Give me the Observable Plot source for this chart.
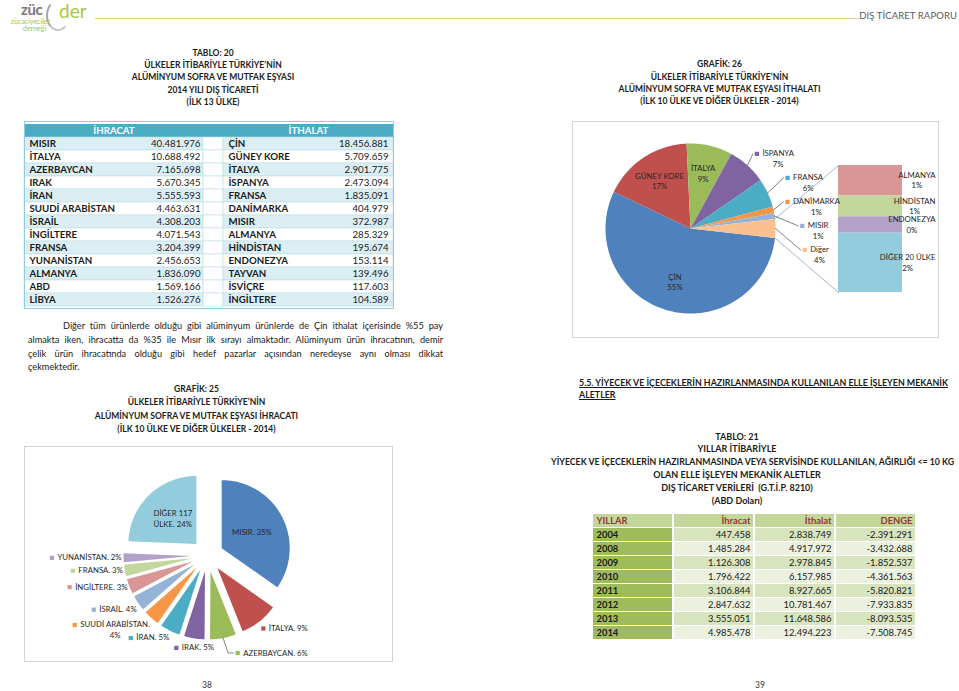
<!DOCTYPE html>
<html lang="tr">
<head>
<meta charset="utf-8">
<script src="https://cdn.jsdelivr.net/npm/d3@7"></script>
<script src="https://cdn.jsdelivr.net/npm/@observablehq/plot@0.6"></script>
<style>
  html, body { margin:0; padding:0; background:#fff; }
  #page { position:relative; width:959px; height:691px; overflow:hidden; background:#fff;
          font-family: Lato, "Noto Sans", sans-serif; color:#1b1b1b; }
  .abs { position:absolute; }
  .ttl { position:absolute; text-align:center; font-weight:700; font-size:8.5px; white-space:nowrap; }
  .ttl div { height:12.3px; line-height:12.3px; }
  .para { position:absolute; left:28px; width:415px; font-size:9.2px; }
  .para div { height:13.7px; line-height:13.7px; text-align:justify; text-align-last:justify; white-space:nowrap; }
  .para div.last { text-align-last:left; }
  .plotbox { position:absolute; }
  .plotbox svg { display:block; overflow:visible; }
</style>
</head>
<body>
<div id="page">
  <!-- header -->
  <div class="abs" style="left:21px;top:2px;font:700 15px/15px Lato;color:#77787b;letter-spacing:-0.4px">züc</div>
  <div class="abs" style="left:46px;top:0px;width:20px;height:27px;border:2px solid transparent;border-left-color:#a6a7a9;border-bottom-color:#c9cacc;border-radius:50%"></div>
  <div class="abs" style="left:59px;top:1px;font:400 19px/19px Lato;color:#a8c545">der</div>
  <div class="abs" style="left:11px;top:17px;font:400 7px/8px Lato;color:#a8c545">zücaciyeciler</div>
  <div class="abs" style="left:23px;top:24px;font:400 7px/8px Lato;color:#a8c545">derneği</div>
  <div class="abs" style="left:95px;top:18px;width:764px;height:1px;background:#d9d68c"></div>
  <div class="abs" style="right:2px;top:10px;font-size:9.5px;line-height:12px;color:#58595b;letter-spacing:0.1px">DIŞ TİCARET RAPORU</div>

  <!-- left page titles -->
  <div class="ttl" style="left:0;width:426px;top:46.8px">
    <div>TABLO: 20</div>
    <div>ÜLKELER İTİBARİYLE TÜRKİYE’NİN</div>
    <div>ALÜMİNYUM SOFRA VE MUTFAK EŞYASI</div>
    <div>2014 YILI DIŞ TİCARETİ</div>
    <div>(İLK 13 ÜLKE)</div>
  </div>

  <div class="para" style="top:319.2px">
    <div style="padding-left:35px">Diğer tüm ürünlerde olduğu gibi alüminyum ürünlerde de Çin ithalat içerisinde %55 pay</div>
    <div>almakta iken, ihracatta da %35 ile Mısır ilk sırayı almaktadır. Alüminyum ürün ihracatının, demir</div>
    <div>çelik ürün ihracatında olduğu gibi hedef pazarlar açısından neredeyse aynı olması dikkat</div>
    <div class="last">çekmektedir.</div>
  </div>

  <div class="ttl" style="left:0;width:393px;top:383px">
    <div style="height:13.3px;line-height:13.3px">GRAFİK: 25</div>
    <div style="height:13.3px;line-height:13.3px">ÜLKELER İTİBARİYLE TÜRKİYE’NİN</div>
    <div style="height:13.3px;line-height:13.3px">ALÜMİNYUM SOFRA VE MUTFAK EŞYASI İHRACATI</div>
    <div style="height:13.3px;line-height:13.3px">(İLK 10 ÜLKE VE DİĞER ÜLKELER - 2014)</div>
  </div>

  <!-- right page titles -->
  <div class="ttl" style="left:519px;width:401px;top:58.4px">
    <div>GRAFİK: 26</div>
    <div>ÜLKELER İTİBARİYLE TÜRKİYE’NİN</div>
    <div>ALÜMİNYUM SOFRA VE MUTFAK EŞYASI İTHALATI</div>
    <div>(İLK 10 ÜLKE VE DİĞER ÜLKELER - 2014)</div>
  </div>

  <div class="abs" style="left:579px;top:377px;font-weight:700;font-size:8.85px;line-height:12px;text-decoration:underline;white-space:nowrap">
    <div>5.5. YİYECEK VE İÇECEKLERİN HAZIRLANMASINDA KULLANILAN ELLE İŞLEYEN MEKANİK</div>
    <div>ALETLER</div>
  </div>

  <div class="ttl" style="left:537px;width:400px;top:430.5px;font-size:9px">
    <div style="height:12.9px;line-height:12.9px">TABLO: 21</div>
    <div style="height:12.9px;line-height:12.9px">YILLAR İTİBARİYLE</div>
    <div style="height:12.9px;line-height:12.9px;position:relative;left:14px;font-size:8.75px">YİYECEK VE İÇECEKLERİN HAZIRLANMASINDA VEYA SERVİSİNDE KULLANILAN, AĞIRLIĞI &lt;= 10 KG</div>
    <div style="height:12.9px;line-height:12.9px">OLAN ELLE İŞLEYEN MEKANİK ALETLER</div>
    <div style="height:12.9px;line-height:12.9px">DIŞ TİCARET VERİLERİ&nbsp; (G.T.İ.P. 8210)</div>
    <div style="height:12.9px;line-height:12.9px">(ABD Doları)</div>
  </div>

  <div class="abs" style="left:192px;width:30px;text-align:center;top:680px;font-size:8.5px;color:#333">38</div>
  <div class="abs" style="left:745px;width:30px;text-align:center;top:680px;font-size:8.5px;color:#333">39</div>
</div>

<script>
// ---------------- DATA ----------------
const exportCountries = ["MISIR","İTALYA","AZERBAYCAN","IRAK","İRAN","SUUDİ ARABİSTAN","İSRAİL","İNGİLTERE","FRANSA","YUNANİSTAN","ALMANYA","ABD","LİBYA"];
const exportValues = [40481976,10688492,7165698,5670345,5555593,4463631,4308203,4071543,3204399,2456653,1836090,1569166,1526276];
const importCountries = ["ÇİN","GÜNEY KORE","İTALYA","İSPANYA","FRANSA","DANİMARKA","MISIR","ALMANYA","HİNDİSTAN","ENDONEZYA","TAYVAN","İSVİÇRE","İNGİLTERE"];
const importValues = [18456881,5709659,2901775,2473094,1835091,404979,372987,285329,195674,153114,139496,117603,104589];

// Grafik 25 (export pie): top 10 + others (others estimated from the 24% share)
const exportPieNames = ["MISIR","İTALYA","AZERBAYCAN","IRAK","İRAN","SUUDİ ARABİSTAN","İSRAİL","İNGİLTERE","FRANSA","YUNANİSTAN","DİĞER 117 ÜLKE"];
const exportPieValues = [40481976,10688492,7165698,5670345,5555593,4463631,4308203,4071543,3204399,2456653,28390000];

// Grafik 26 (import bar-of-pie)
const importPieNames = ["ÇİN","GÜNEY KORE","İTALYA","İSPANYA","FRANSA","DANİMARKA","MISIR","Diğer"];
const importPieValues = [18456881,5709659,2901775,2473094,1835091,404979,372987];
const importBarNames = ["ALMANYA","HİNDİSTAN","ENDONEZYA","DİĞER 20 ÜLKE"];
const importBarValues = [285329,195674,153114,556000];

// Tablo 21
const years = [2004,2008,2009,2010,2011,2012,2013,2014];
const ihracat = [447458,1485284,1126308,1796422,3106844,2847632,3555051,4985478];
const ithalat = [2838749,4917972,2978845,6157985,8927665,10781467,11648586,12494223];
const denge = [-2391291,-3432688,-1852537,-4361563,-5820821,-7933835,-8093535,-7508745];
const table21Cols = ["YILLAR","İhracat","İthalat","DENGE"];

// palettes (styles)
const exportPieColors = ["#4F81BD","#C0504D","#9BBB59","#8064A2","#4BACC6","#F79646","#95B3D7","#D99694","#C3D69B","#B3A2C7","#93CDDD"];
const importPieColors = ["#4F81BD","#C0504D","#9BBB59","#8064A2","#4BACC6","#F79646","#95B3D7","#FAC090"];
const importBarColors = ["#D99694","#C3D69B","#B3A2C7","#93CDDD"];

// ---------------- HELPERS ----------------
const FONT = "Lato, 'Noto Sans', sans-serif";
const loc = d3.formatLocale({decimal: ",", thousands: ".", grouping: [3], currency: ["", ""], minus: "-"});
const num = loc.format(",d");
const pct = d3.format(".0%");
const ctx = document.createElement("canvas").getContext("2d");
const tw = (s, size, weight = 400) => { ctx.font = `${weight} ${size}px Lato`; return ctx.measureText(s).width; };
const page = document.getElementById("page");
function mount(svg, left, top, w, h) {
  const d = document.createElement("div");
  d.className = "plotbox";
  d.style.left = left + "px"; d.style.top = top + "px";
  d.style.width = w + "px"; d.style.height = h + "px";
  d.appendChild(svg); page.appendChild(d);
}
const at = (c, r, a) => [c[0] + r * Math.sin(a), c[1] - r * Math.cos(a)];
function slicePts(name, color, c, r, a0, a1) {
  const n = Math.max(2, Math.ceil((a1 - a0) / (Math.PI / 180)));
  const pts = [{name, color, x: c[0], y: c[1]}];
  for (let i = 0; i <= n; i++) {
    const p = at(c, r, a0 + (a1 - a0) * i / n);
    pts.push({name, color, x: p[0], y: p[1]});
  }
  pts.push({name, color, x: c[0], y: c[1]});
  return pts;
}
function wrap(text, maxChars) {
  const words = text.split(" "), lines = [];
  let cur = "";
  for (const w of words) {
    if (cur && (cur + " " + w).length > maxChars) { lines.push(cur); cur = w; }
    else cur = cur ? cur + " " + w : w;
  }
  if (cur) lines.push(cur);
  return lines;
}
const pixelScales = (W, H) => ({
  x: {domain: [0, W], range: [0, W], axis: null},
  y: {domain: [0, H], range: [0, H], axis: null}
});

// ---------------- TABLO 20 ----------------
{
  const W = 369, H = 187, LX1 = 179, RX0 = 199;
  const rows = exportCountries.map((c, i) => ({
    row: String(i), ln: c, lv: num(exportValues[i]), rn: importCountries[i], rv: num(importValues[i]), shade: i % 2 === 0
  }));
  const cells = rows.flatMap(r => [
    {row: r.row, x1: 0, x2: LX1, fill: r.shade ? "#DAEEF3" : "#FFFFFF"},
    {row: r.row, x1: LX1, x2: RX0, fill: "#FFFFFF"},
    {row: r.row, x1: RX0, x2: W, fill: r.shade ? "#DAEEF3" : "#FFFFFF"}
  ]);
  const head = [{row: "h", x1: 0, x2: W}];
  const headText = [{row: "h", t: "İHRACAT", x: LX1 / 2}, {row: "h", t: "İTHALAT", x: (RX0 + W) / 2}];
  const svg = Plot.plot({
    width: W, height: H, margin: 0,
    x: {domain: [0, W], range: [0, W], axis: null},
    y: {domain: ["h", ...rows.map(r => r.row)], range: [0, H], padding: 0, axis: null},
    color: {type: "identity"},
    style: {fontFamily: FONT, fontSize: "9.7px", color: "#1b1b1b", background: "transparent", overflow: "visible"},
    marks: [
      Plot.barX(head, {x1: "x1", x2: "x2", y: "row", fill: "#4BACC6"}),
      Plot.barX(cells, {x1: "x1", x2: "x2", y: "row", fill: "fill", stroke: "#BCDDE7", strokeWidth: 0.6}),
      Plot.text(headText, {x: "x", y: "row", text: "t", fill: "white", fontWeight: "bold"}),
      Plot.text(rows, {x: () => 5, y: "row", text: "ln", textAnchor: "start", fontWeight: "bold"}),
      Plot.text(rows, {x: () => LX1 - 3, y: "row", text: "lv", textAnchor: "end"}),
      Plot.text(rows, {x: () => RX0 + 5, y: "row", text: "rn", textAnchor: "start", fontWeight: "bold"}),
      Plot.text(rows, {x: () => W - 5, y: "row", text: "rv", textAnchor: "end"}),
      Plot.frame({stroke: "#93CDDD"})
    ]
  });
  mount(svg, 24, 121, W, H);
}

// ---------------- TABLO 21 ----------------
{
  const W = 322, H = 127, pIn = 0.025;
  const bw = W / (table21Cols.length - pIn) * (1 - pIn);
  const rowKeys = ["h", ...years.map(String)];
  const cells = table21Cols.map(c => ({col: c, row: "h", fill: "#C4D79B"}));
  years.forEach((y, i) => {
    cells.push({col: "YILLAR", row: String(y), fill: "#9EBC5C"});
    ["İhracat", "İthalat", "DENGE"].forEach(c =>
      cells.push({col: c, row: String(y), fill: i % 2 ? "#EBF1DE" : "#D7E4BD"}));
  });
  const vals = years.flatMap((y, i) => [
    {col: "İhracat", row: String(y), t: num(ihracat[i])},
    {col: "İthalat", row: String(y), t: num(ithalat[i])},
    {col: "DENGE", row: String(y), t: num(denge[i])}
  ]);
  const yearText = years.map(y => ({col: "YILLAR", row: String(y), t: String(y)}));
  const headL = [{col: "YILLAR", row: "h", t: "YILLAR"}];
  const headR = table21Cols.slice(1).map(c => ({col: c, row: "h", t: c}));
  const svg = Plot.plot({
    width: W, height: H, margin: 0,
    x: {domain: table21Cols, range: [0, W], paddingInner: pIn, paddingOuter: 0, axis: null},
    y: {domain: rowKeys, range: [0, H], paddingInner: 0.07, paddingOuter: 0, axis: null},
    color: {type: "identity"},
    style: {fontFamily: FONT, fontSize: "9.4px", color: "#222", background: "transparent", overflow: "visible"},
    marks: [
      Plot.cell(cells, {x: "col", y: "row", fill: "fill"}),
      Plot.text(headL, {x: "col", y: "row", text: "t", textAnchor: "start", dx: -bw / 2 + 3, fill: "#953735", fontWeight: "bold"}),
      Plot.text(headR, {x: "col", y: "row", text: "t", textAnchor: "end", dx: bw / 2 - 3, fill: "#953735", fontWeight: "bold"}),
      Plot.text(yearText, {x: "col", y: "row", text: "t", textAnchor: "start", dx: -bw / 2 + 3, fontWeight: "bold", fill: "#1b1b1b"}),
      Plot.text(vals, {x: "col", y: "row", text: "t", textAnchor: "end", dx: bw / 2 - 3})
    ]
  });
  mount(svg, 593, 513, W, H);
}

// ---------------- GRAFİK 25 (export pie, exploded) ----------------
{
  const W = 368, H = 215, C = [183, 109], R = 68, EX = 16, FS = 7.8, LH = 11;
  const data = exportPieNames.map((n, i) => ({name: n, value: exportPieValues[i], color: exportPieColors[i]}));
  const total = d3.sum(data, d => d.value);
  const arcs = d3.pie().sort(null).value(d => d.value)(data);
  arcs.forEach(a => {
    a.mid = (a.startAngle + a.endAngle) / 2;
    a.share = a.data.value / total;
    a.label = a.data.name + ". " + pct(a.share);
  });
  const pts = arcs.flatMap(a => slicePts(a.data.name, a.data.color, at(C, EX, a.mid), R, a.startAngle, a.endAngle));
  const texts = [], markers = [], leaders = [], boxes = [];
  arcs.filter(a => a.share > 0.15).forEach(a => {
    const p = at(at(C, EX, a.mid), R * 0.5, a.mid);
    const lines = wrap(a.label, 10);
    lines.forEach((t, i) => texts.push({x: p[0], y: p[1] + (i - (lines.length - 1) / 2) * LH, t}));
  });
  const outs = arcs.filter(a => a.share <= 0.15).reverse();
  for (const a of outs) {
    const lines = wrap(a.label, 17);
    const w1 = tw(lines[0], FS);
    const w = 8 + w1, h = lines.length * LH;
    const sx = Math.sin(a.mid), sy = -Math.cos(a.mid);
    const P = at(C, R + EX + 2, a.mid);
    let L, cy, lead = null;
    const vy = sy > 0.4 ? P[1] + h / 2 : sy < -0.4 ? P[1] - h / 2 : P[1];
    if (sx < -0.3) { L = P[0] - w; cy = vy; }
    else if (sx > 0.3) { L = P[0]; cy = vy; }
    else {
      L = P[0] - w / 2; cy = P[1] + 2 + h / 2;
      const b = {x0: L, x1: L + w, y0: cy - h / 2, y1: cy + h / 2};
      if (boxes.some(o => o.x0 < b.x1 && b.x0 < o.x1 && o.y0 < b.y1 && b.y0 < o.y1)) {
        const E = at(C, R + EX, a.mid);
        L = E[0] + 12; cy = E[1] + 15;
        lead = [[E[0], E[1]], [E[0] + 5, cy], [L - 2, cy]];
      }
    }
    const cx = L + 8 + w1 / 2;
    lines.forEach((t, i) => {
      const y = cy + (i - (lines.length - 1) / 2) * LH;
      const wi = tw(t, FS);
      boxes.push(i === 0 ? {x0: L, x1: L + w, y0: y - LH / 2, y1: y + LH / 2}
                         : {x0: cx - wi / 2, x1: cx + wi / 2, y0: y - LH / 2, y1: y + LH / 2});
      texts.push({x: cx, y, t});
    });
    markers.push({x: L + 2.5, y: cy - (lines.length - 1) / 2 * LH, color: a.data.color});
    if (lead) lead.forEach(([x, y]) => leaders.push({id: a.data.name, x, y}));
  }
  const svg = Plot.plot({
    width: W, height: H, margin: 0, ...pixelScales(W, H),
    color: {type: "identity"},
    style: {fontFamily: FONT, fontSize: FS + "px", color: "#262626", background: "transparent", overflow: "visible"},
    marks: [
      Plot.frame({stroke: "#D4D4D4"}),
      Plot.line(pts, {x: "x", y: "y", z: "name", fill: "color", stroke: "none"}),
      Plot.line(leaders, {x: "x", y: "y", z: "id", stroke: "#4d4d4d", strokeWidth: 0.7}),
      Plot.dot(markers, {x: "x", y: "y", fill: "color", symbol: "square", r: 2.4}),
      Plot.text(texts, {x: "x", y: "y", text: "t"})
    ]
  });
  mount(svg, 24, 446, W, H);
}

// ---------------- GRAFİK 26 (import bar-of-pie) ----------------
{
  const W = 366, H = 216, C = [118, 107], R = 85, FS = 7.8, LH = 10.5;
  const bar = {x0: 266, x1: 330, y0: 44, y1: 171};
  const barData = importBarNames.map((n, i) => ({name: n, value: importBarValues[i], color: importBarColors[i]}));
  const other = d3.sum(barData, d => d.value);
  const mainData = importPieNames.map((n, i) => ({
    name: n, value: i < importPieValues.length ? importPieValues[i] : other, color: importPieColors[i]
  }));
  const total = d3.sum(mainData, d => d.value);
  const dAng = 2 * Math.PI * other / total;
  const start = Math.PI / 2 + dAng / 2;
  const arcs = d3.pie().sort(null).value(d => d.value).startAngle(start).endAngle(start + 2 * Math.PI)(mainData);
  arcs.forEach(a => { a.mid = (a.startAngle + a.endAngle) / 2; a.share = a.data.value / total; });
  const pts = arcs.flatMap(a => slicePts(a.data.name, a.data.color, C, R, a.startAngle, a.endAngle));

  let acc = 0;
  const segs = barData.map(d => {
    const y1 = bar.y0 + acc / other * (bar.y1 - bar.y0);
    acc += d.value;
    const y2 = bar.y0 + acc / other * (bar.y1 - bar.y0);
    return {...d, x1: bar.x0, x2: bar.x1, y1, y2};
  });
  const last = arcs[arcs.length - 1];
  const pA = at(C, R, last.startAngle), pB = at(C, R, last.endAngle);
  const conn = [
    {id: 0, x: pA[0], y: pA[1]}, {id: 0, x: bar.x0, y: bar.y0},
    {id: 1, x: pB[0], y: pB[1]}, {id: 1, x: bar.x0, y: bar.y1}
  ];

  const texts = [], markers = [], leaders = [];
  arcs.filter(a => a.share > 0.08).forEach(a => {
    const p = at(C, R * 0.66, a.mid);
    [a.data.name, pct(a.share)].forEach((t, i) => texts.push({x: p[0], y: p[1] + (i - 0.5) * LH, t}));
  });
  // outside labels: natural spot on a ring, pushed apart, then packed into a column
  const outs = arcs.filter(a => a.share <= 0.08).map(a => {
    const c = at(C, 125, a.mid);
    return {a, cx0: c[0], cy: c[1] + 6};
  });
  for (let i = 1; i < outs.length; i++) outs[i].cy = Math.max(outs[i].cy, outs[i - 1].cy + 24);
  for (let i = outs.length - 2; i >= 0; i--) outs[i].cy = Math.max(outs[i].cy, outs[i + 1].cy - 24);
  outs.forEach(({a, cx0, cy}) => {
    const lines = [a.data.name, pct(a.share)];
    const w1 = tw(lines[0], FS);
    const L = cx0 - (8 + w1) / 2;
    const cx = L + 8 + w1 / 2;
    lines.forEach((t, i) => texts.push({x: cx, y: cy + (i - 0.5) * LH, t}));
    markers.push({x: L + 2.5, y: cy - LH / 2, color: a.data.color});
    const E = at(C, R, a.mid);
    leaders.push({id: a.data.name, x: E[0], y: E[1]}, {id: a.data.name, x: L - 1.5, y: cy - LH / 2});
  });
  segs.forEach(s => {
    const lines = [s.name, pct(s.value / total)];
    const wm = d3.max(lines, t => tw(t, FS));
    const cx = W - 3 - wm / 2, cy = (s.y1 + s.y2) / 2;
    lines.forEach((t, i) => texts.push({x: cx, y: cy + (i - 0.5) * LH, t}));
  });

  const svg = Plot.plot({
    width: W, height: H, margin: 0, ...pixelScales(W, H),
    color: {type: "identity"},
    style: {fontFamily: FONT, fontSize: FS + "px", color: "#262626", background: "transparent", overflow: "visible"},
    marks: [
      Plot.frame({stroke: "#D4D4D4"}),
      Plot.line(pts, {x: "x", y: "y", z: "name", fill: "color", stroke: "none"}),
      Plot.rect(segs, {x1: "x1", x2: "x2", y1: "y1", y2: "y2", fill: "color"}),
      Plot.line(conn, {x: "x", y: "y", z: "id", stroke: "#8EA6C6", strokeWidth: 0.8}),
      Plot.line(leaders, {x: "x", y: "y", z: "id", stroke: "#4d4d4d", strokeWidth: 0.7}),
      Plot.dot(markers, {x: "x", y: "y", fill: "color", symbol: "square", r: 2.4}),
      Plot.text(texts, {x: "x", y: "y", text: "t"})
    ]
  });
  mount(svg, 572, 121, W, H);
}
</script>
</body>
</html>
